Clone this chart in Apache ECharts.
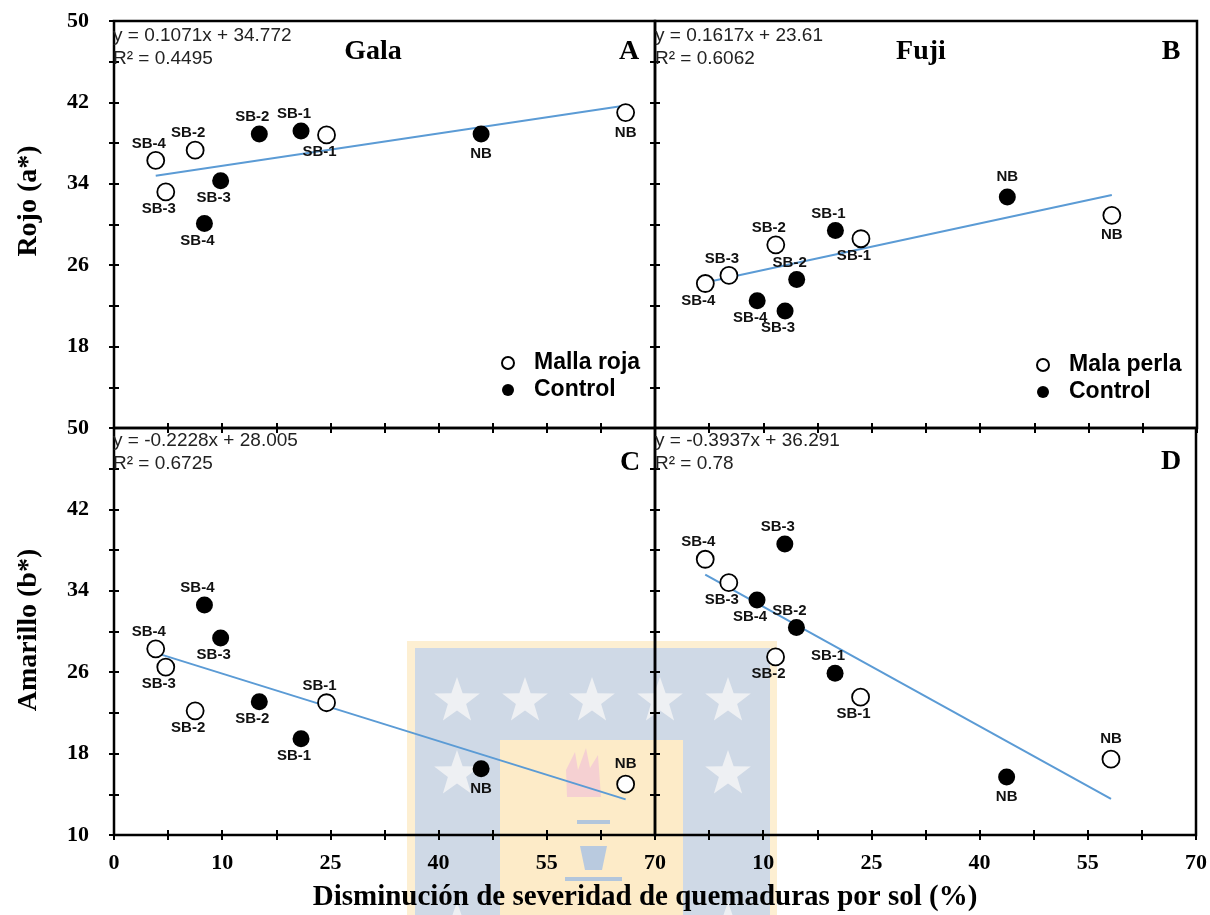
<!DOCTYPE html>
<html>
<head>
<meta charset="utf-8">
<script src="https://cdn.jsdelivr.net/npm/echarts@6/dist/echarts.min.js"></script>
<style>
html,body{margin:0;padding:0;background:#fff;}
#chart{width:1210px;height:915px;}
</style>
</head>
<body>
<div id="chart"></div>
<script>
// ---------------- DATA ----------------
const categories = ['SB-1', 'SB-2', 'SB-3', 'SB-4', 'NB'];
const xTickLabels = ['0', '10', '25', '40', '55', '70'];

// x: Disminución de severidad de quemaduras por sol (%)
const galaXMalla   = [27.5, 10.5, 6.7, 5.4, 66.2];
const galaXControl = [24.2, 18.8, 13.8, 11.7, 47.5];
const fujiXMalla   = [26.6, 15.6, 9.55, 6.5, 59.0];
const fujiXControl = [23.3, 18.3, 16.8, 13.2, 45.5];

// Rojo (a*)
const rojoGalaMalla   = [38.8, 37.3, 33.2, 36.3, 41.0];
const rojoGalaControl = [39.2, 38.9, 34.3, 30.1, 38.9];
const rojoFujiMalla   = [28.6, 28.0, 25.0, 24.2, 30.9];
const rojoFujiControl = [29.4, 24.6, 21.5, 22.5, 32.7];

// Amarillo (b*)
const amarilloGalaMalla   = [23.0, 22.2, 26.5, 28.3, 15.0];
const amarilloGalaControl = [19.45, 23.1, 29.35, 32.6, 16.5];
const amarilloFujiMalla   = [23.55, 27.5, 34.8, 37.1, 17.45];
const amarilloFujiControl = [25.9, 30.4, 38.6, 33.1, 15.7];

// trend line end values (at min and max x of the panel)
const trendRojoGala     = [34.8, 41.7];
const trendRojoFuji     = [24.3, 32.9];
const trendAmarilloGala = [27.9, 13.5];
const trendAmarilloFuji = [35.6, 13.55];

const equations = [
  ['y = 0.1071x + 34.772', 'R\u00b2 = 0.4495'],
  ['y = 0.1617x + 23.61', 'R\u00b2 = 0.6062'],
  ['y = -0.2228x + 28.005', 'R\u00b2 = 0.6725'],
  ['y = -0.3937x + 36.291', 'R\u00b2 = 0.78']
];
const panelLetters = ['A', 'B', 'C', 'D'];
const cultivars = ['Gala', 'Fuji'];
const openNames = ['Malla roja', 'Mala perla'];
const controlName = 'Control';

// ---------------- LAYOUT / STYLE ----------------
const labelPlace = [
  { open: ['b','t','b','t','b'], ctrl: ['t','t','b','b','b'] },
  { open: ['b','t','t','b','b'], ctrl: ['t','t','b','b','t'] },
  { open: ['t','b','b','t','t'], ctrl: ['b','b','b','t','b'] },
  { open: ['b','b','b','t','t'], ctrl: ['t','t','t','b','b'] }
];
const SERIF = 'Liberation Serif';
const SANS = 'Liberation Sans';
const grids = [
  { left: 114, top: 21, width: 541, height: 407 },
  { left: 655, top: 21, width: 542, height: 407 },
  { left: 114, top: 428, width: 541, height: 407 },
  { left: 655, top: 428, width: 542, height: 407 }
];

function labelOffset(place, name) {
  const dx = name === 'NB' ? 0 : -7;
  const dy = name === 'NB' ? 20 : 17;
  return place === 't' ? [dx, -dy] : [dx, dy];
}

function pointData(xs, ys, places) {
  return xs.map((x, k) => ({
    value: [x, ys[k]],
    name: categories[k],
    label: { offset: labelOffset(places[k], categories[k]) }
  }));
}

const panels = [
  { xo: galaXMalla, xc: galaXControl, yo: rojoGalaMalla, yc: rojoGalaControl, tr: trendRojoGala, c: 0 },
  { xo: fujiXMalla, xc: fujiXControl, yo: rojoFujiMalla, yc: rojoFujiControl, tr: trendRojoFuji, c: 1 },
  { xo: galaXMalla, xc: galaXControl, yo: amarilloGalaMalla, yc: amarilloGalaControl, tr: trendAmarilloGala, c: 0 },
  { xo: fujiXMalla, xc: fujiXControl, yo: amarilloFujiMalla, yc: amarilloFujiControl, tr: trendAmarilloFuji, c: 1 }
];

const tickStyle = { color: '#000', width: 2 };
const xAxes = [], yAxes = [], series = [];
panels.forEach((p, i) => {
  xAxes.push({
    gridIndex: i, type: 'value', min: 0, max: 70, interval: 14, offset: -5,
    axisLine: { show: false }, splitLine: { show: false },
    axisTick: { show: true, length: 10, lineStyle: tickStyle },
    minorTick: { show: true, splitNumber: 2, length: 10, lineStyle: tickStyle },
    axisLabel: {
      show: i >= 2, margin: 22, color: '#000', fontFamily: SERIF, fontWeight: 'bold', fontSize: 22,
      formatter: function (v) {
        const k = Math.round(v / 14);
        if (i === 3 && k === 0) return '';
        return xTickLabels[k];
      }
    }
  });
  yAxes.push({
    gridIndex: i, type: 'value', min: 10, max: 50, interval: 8, offset: -5,
    axisLine: { show: false }, splitLine: { show: false },
    axisTick: { show: true, length: 10, lineStyle: tickStyle },
    minorTick: { show: true, splitNumber: 2, length: 10, lineStyle: tickStyle },
    axisLabel: {
      show: i % 2 === 0, margin: 30, color: '#000', fontFamily: SERIF, fontWeight: 'bold', fontSize: 22,
      formatter: function (v) {
        if (i === 0 && v === 10) return '';
        return String(v);
      }
    }
  });
  const allX = p.xo.concat(p.xc);
  series.push({
    type: 'line', name: 'trend', xAxisIndex: i, yAxisIndex: i, silent: true,
    showSymbol: false, symbol: 'none', z: 1,
    lineStyle: { color: '#5b9bd5', width: 2 },
    data: [[Math.min.apply(null, allX), p.tr[0]], [Math.max.apply(null, allX), p.tr[1]]]
  });
  const lblBase = {
    show: true, position: 'inside', color: '#111', fontFamily: SANS, fontWeight: 'bold', fontSize: 15,
    formatter: '{b}'
  };
  series.push({
    type: 'scatter', name: openNames[p.c], xAxisIndex: i, yAxisIndex: i, z: 3,
    symbol: 'circle', symbolSize: 17,
    itemStyle: { color: '#fff', borderColor: '#000', borderWidth: 1.8, opacity: 1 },
    label: lblBase,
    data: pointData(p.xo, p.yo, labelPlace[i].open)
  });
  series.push({
    type: 'scatter', name: controlName, xAxisIndex: i, yAxisIndex: i, z: 3,
    symbol: 'circle', symbolSize: 17,
    itemStyle: { color: '#000', opacity: 1 },
    label: lblBase,
    data: pointData(p.xc, p.yc, labelPlace[i].ctrl)
  });
});

// ---------------- GRAPHIC (texts + watermark) ----------------
function star(cx, cy, R) {
  const pts = [];
  for (let k = 0; k < 10; k++) {
    const r = k % 2 === 0 ? R : R * 0.4;
    const a = -Math.PI / 2 + k * Math.PI / 5;
    pts.push([cx + r * Math.cos(a), cy + r * Math.sin(a)]);
  }
  return { type: 'polygon', z: -5, shape: { points: pts }, style: { fill: '#eef0f3' }, silent: true };
}
const graphics = [];
// watermark (university logo, faint)
graphics.push({ type: 'rect', z: -10, silent: true, shape: { x: 407, y: 641, width: 370, height: 274 }, style: { fill: '#fdefd2' } });
graphics.push({ type: 'rect', z: -9, silent: true, shape: { x: 415, y: 648, width: 355, height: 267 }, style: { fill: '#cfd9e6' } });
graphics.push({ type: 'rect', z: -8, silent: true, shape: { x: 500, y: 740, width: 183, height: 175 }, style: { fill: '#fdebc8' } });
[457, 525, 592, 660, 728].forEach(cx => graphics.push(star(cx, 701, 24)));
[457, 728].forEach(cx => graphics.push(star(cx, 774, 24)));
[457, 728].forEach(cx => graphics.push(star(cx, 926, 24)));
graphics.push({ type: 'polygon', z: -5, silent: true, shape: { points: [[567,797],[566,770],[575,752],[578,770],[586,748],[590,768],[598,755],[601,797]] }, style: { fill: '#f5d0d2' } });
graphics.push({ type: 'rect', z: -5, silent: true, shape: { x: 577, y: 820, width: 33, height: 4 }, style: { fill: '#b3c6dc' } });
graphics.push({ type: 'polygon', z: -5, silent: true, shape: { points: [[580,846],[607,846],[602,870],[585,870]] }, style: { fill: '#b9cadf' } });
graphics.push({ type: 'rect', z: -5, silent: true, shape: { x: 565, y: 877, width: 57, height: 4 }, style: { fill: '#b3c6dc' } });

// equations
const eqPos = [[113, 36], [655, 36], [113, 441], [655, 441]];
equations.forEach((eq, i) => {
  eq.forEach((t, j) => {
    graphics.push({ type: 'text', z: 10, silent: true, x: eqPos[i][0], y: eqPos[i][1] + j * 23,
      style: { text: t, fill: '#222', font: '19px "' + SANS + '"', textAlign: 'left', textVerticalAlign: 'middle' } });
  });
});
// panel titles and letters
const titlePos = [[373, 52], [921, 52]];
cultivars.forEach((c, i) => {
  graphics.push({ type: 'text', z: 10, silent: true, x: titlePos[i][0], y: titlePos[i][1],
    style: { text: c, fill: '#000', font: 'bold 28px "' + SERIF + '"', textAlign: 'center', textVerticalAlign: 'middle' } });
});
const letterPos = [[629, 52], [1171, 52], [630, 463], [1171, 462]];
panelLetters.forEach((l, i) => {
  graphics.push({ type: 'text', z: 10, silent: true, x: letterPos[i][0], y: letterPos[i][1],
    style: { text: l, fill: '#000', font: 'bold 28px "' + SERIF + '"', textAlign: 'center', textVerticalAlign: 'middle' } });
});
// axis names
graphics.push({ type: 'text', z: 10, silent: true, x: 29, y: 201, rotation: Math.PI / 2,
  style: { text: 'Rojo (a*)', fill: '#000', font: 'bold 28px "' + SERIF + '"', textAlign: 'center', textVerticalAlign: 'middle' } });
graphics.push({ type: 'text', z: 10, silent: true, x: 29, y: 630, rotation: Math.PI / 2,
  style: { text: 'Amarillo (b*)', fill: '#000', font: 'bold 28px "' + SERIF + '"', textAlign: 'center', textVerticalAlign: 'middle' } });
graphics.push({ type: 'text', z: 10, silent: true, x: 645, y: 898,
  style: { text: 'Disminución de severidad de quemaduras por sol (%)', fill: '#000', font: 'bold 29px "' + SERIF + '"', textAlign: 'center', textVerticalAlign: 'middle' } });

const legendText = { color: '#000', fontFamily: SANS, fontWeight: 'bold', fontSize: 23, lineHeight: 24, padding: [0, 0, 0, 15] };
const option = {
  backgroundColor: '#fff',
  animation: false,
  grid: grids.map(g => Object.assign({ show: true, borderColor: '#000', borderWidth: 2.5, backgroundColor: 'transparent' }, g)),
  xAxis: xAxes,
  yAxis: yAxes,
  legend: [
    { data: [openNames[0], controlName], orient: 'vertical', left: 501, top: 351, padding: 0,
      itemWidth: 12, itemHeight: 12, itemGap: 3, textStyle: legendText, selectedMode: false },
    { data: [openNames[1], controlName], orient: 'vertical', left: 1036, top: 353, padding: 0,
      itemWidth: 12, itemHeight: 12, itemGap: 3, textStyle: legendText, selectedMode: false }
  ],
  graphic: { elements: graphics },
  series: series
};
const chart = echarts.init(document.getElementById('chart'), null, { renderer: 'canvas' });
chart.setOption(option);
</script>
</body>
</html>
